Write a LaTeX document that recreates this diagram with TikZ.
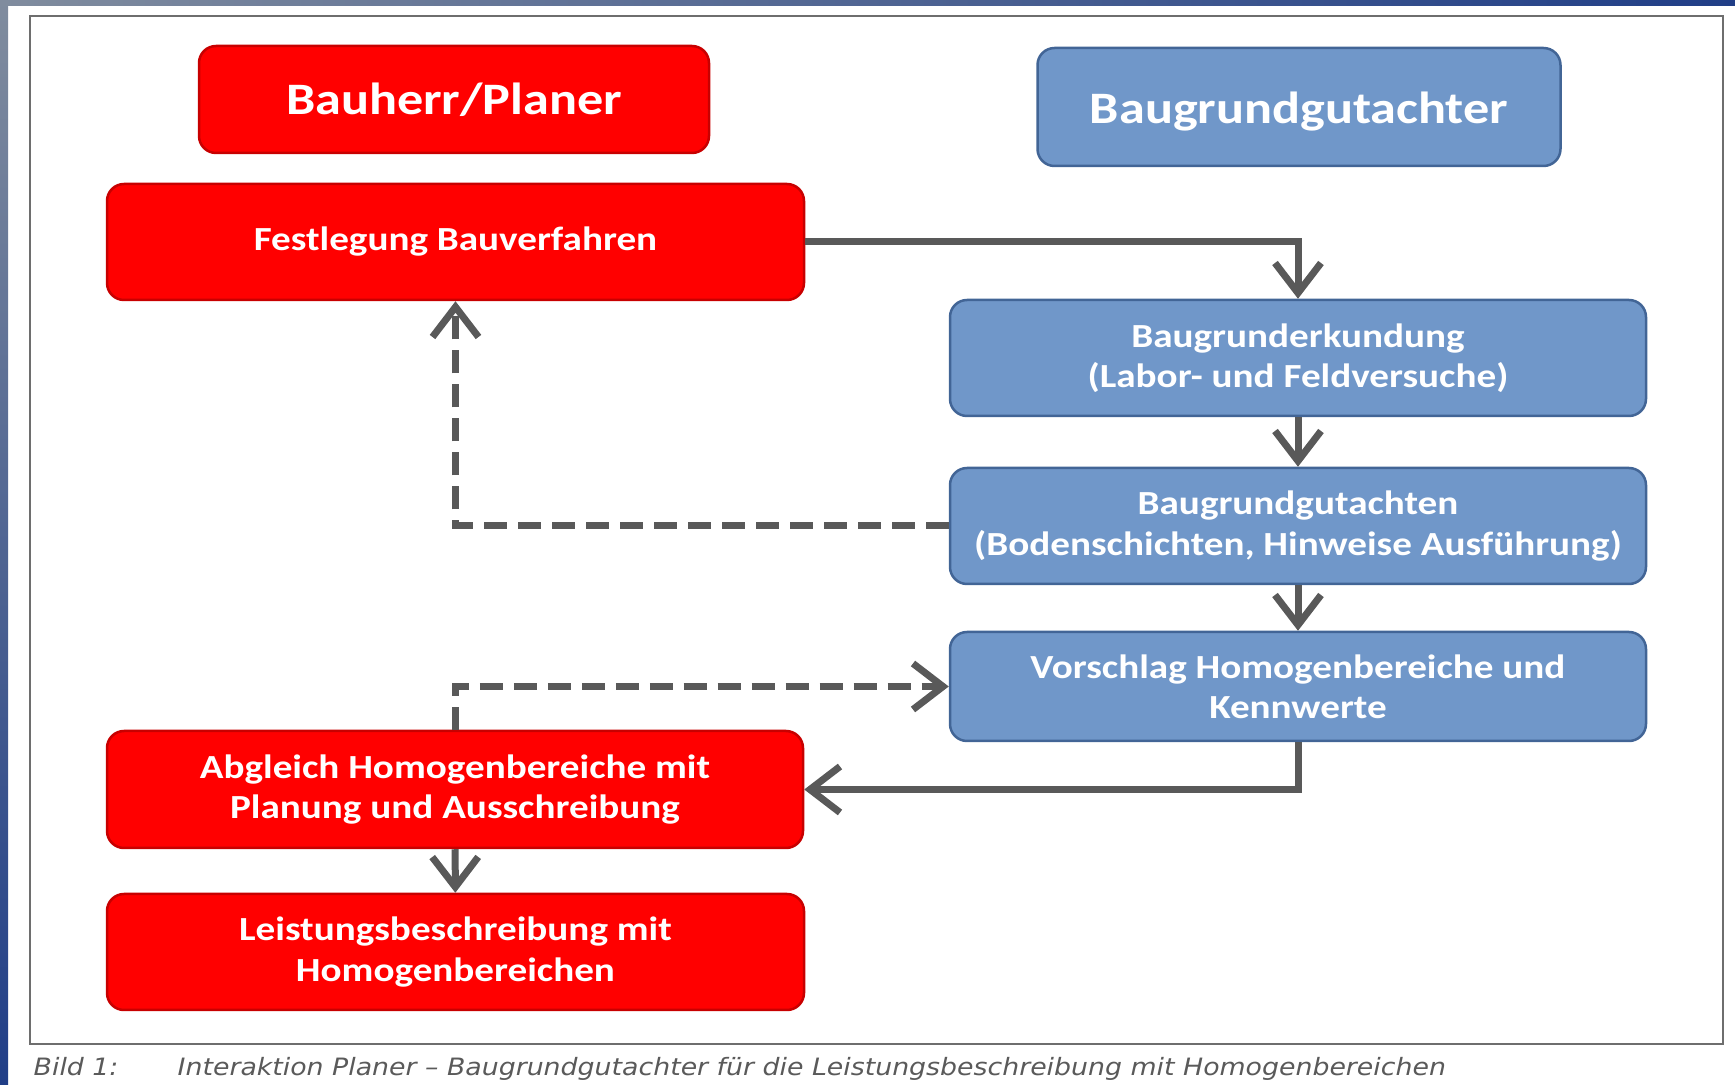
\documentclass[tikz,border=0pt]{standalone}
\usepackage{fontspec}
\setmainfont{Carlito}[FakeStretch=1.16]
\newfontfamily\capfont{DejaVu Sans}[FakeStretch=1.12]
\usetikzlibrary{arrows.meta}
\definecolor{boxred}{RGB}{255,0,0}
\definecolor{boxredline}{RGB}{200,0,0}
\definecolor{boxblue}{RGB}{112,151,201}
\definecolor{boxblueline}{RGB}{66,101,150}
\definecolor{linegray}{RGB}{89,89,89}
\definecolor{framegray}{RGB}{110,110,110}
\definecolor{stripgray}{RGB}{128,140,158}
\definecolor{stripblue}{RGB}{32,62,135}
\definecolor{capgray}{RGB}{90,90,90}

\begin{document}
\begin{tikzpicture}
    [
        x=0.1mm, y=-0.1mm,
        box style/.style={draw, line width=0.25mm, rounded corners=1.7mm, text=white, align=center, inner sep=0pt,
            font=\bfseries\fontsize{9.6}{11.4}\selectfont},
        red box/.style={box style, fill=boxred, draw=boxredline},
        blue box/.style={box style, fill=boxblue, draw=boxblueline},
        title style/.style={font=\bfseries\fontsize{12.8}{15}\selectfont},
        flow style/.style={line width=0.7mm, color=linegray, -{Straight Barb[length=3mm,width=4.6mm]}},
        dash style/.style={flow style, dash pattern=on 2.3mm off 1.1mm},
        caption style/.style={anchor=base west, inner sep=0pt, text=capgray, font=\capfont\itshape\fontsize{6.8}{8}\selectfont}
    ]
    \useasboundingbox (0,0) rectangle (1735,1085);
    \shade[left color=stripgray, right color=stripblue] (0,0) rectangle (1735,6);
    \shade[top color=stripgray, bottom color=stripblue] (0,0) rectangle (8,1085);
    \draw[framegray, line width=0.2mm] (30,16) rectangle (1723,1044);

    \node[red box, title style, minimum width=51mm, minimum height=10.7mm] (plan) at (454,99.5) {Bauherr/Planer};
    \node[blue box, title style, minimum width=52.3mm, minimum height=11.8mm] (bgg) at (1299,107) {\raisebox{-0.45mm}[\height][\depth]{Baugrundgutachter}};
    \node[red box, minimum width=69.7mm, minimum height=11.6mm] (fest) at (455.5,242) {Festlegung Bauverfahren};
    \node[blue box, minimum width=69.6mm, minimum height=11.6mm] (erk) at (1298,358) {Baugrunderkundung\\(Labor- und Feldversuche)};
    \node[blue box, minimum width=69.6mm, minimum height=11.6mm] (gut) at (1298,526) {Baugrundgutachten\\(Bodenschichten, Hinweise Ausführung)};
    \node[blue box, minimum width=69.6mm, minimum height=10.9mm] (vor) at (1298,686.5) {Vorschlag Homogenbereiche und\\Kennwerte};
    \node[red box, minimum width=69.6mm, minimum height=11.7mm] (abg) at (455,789.5) {Abgleich Homogenbereiche mit\\Planung und Ausschreibung};
    \node[red box, minimum width=69.7mm, minimum height=11.6mm] (leist) at (455.5,952) {Leistungsbeschreibung mit\\Homogenbereichen};

    \draw[flow style] (fest.east) -| (erk.north);
    \draw[flow style] (erk) -- (gut);
    \draw[flow style] (gut) -- (vor);
    \draw[dash style] (gut.west) -| (fest.south);
    \draw[dash style] (abg.north) |- (vor.west);
    \draw[flow style] (vor.south) |- (abg.east);
    \draw[flow style] (abg) -- (leist);

    \node[caption style] (fignum) at (33,1075) {Bild 1:};
    \node[caption style] (figtext) at (177,1075) {Interaktion Planer – Baugrundgutachter für die Leistungsbeschreibung mit Homogenbereichen};
\end{tikzpicture}
\end{document}
